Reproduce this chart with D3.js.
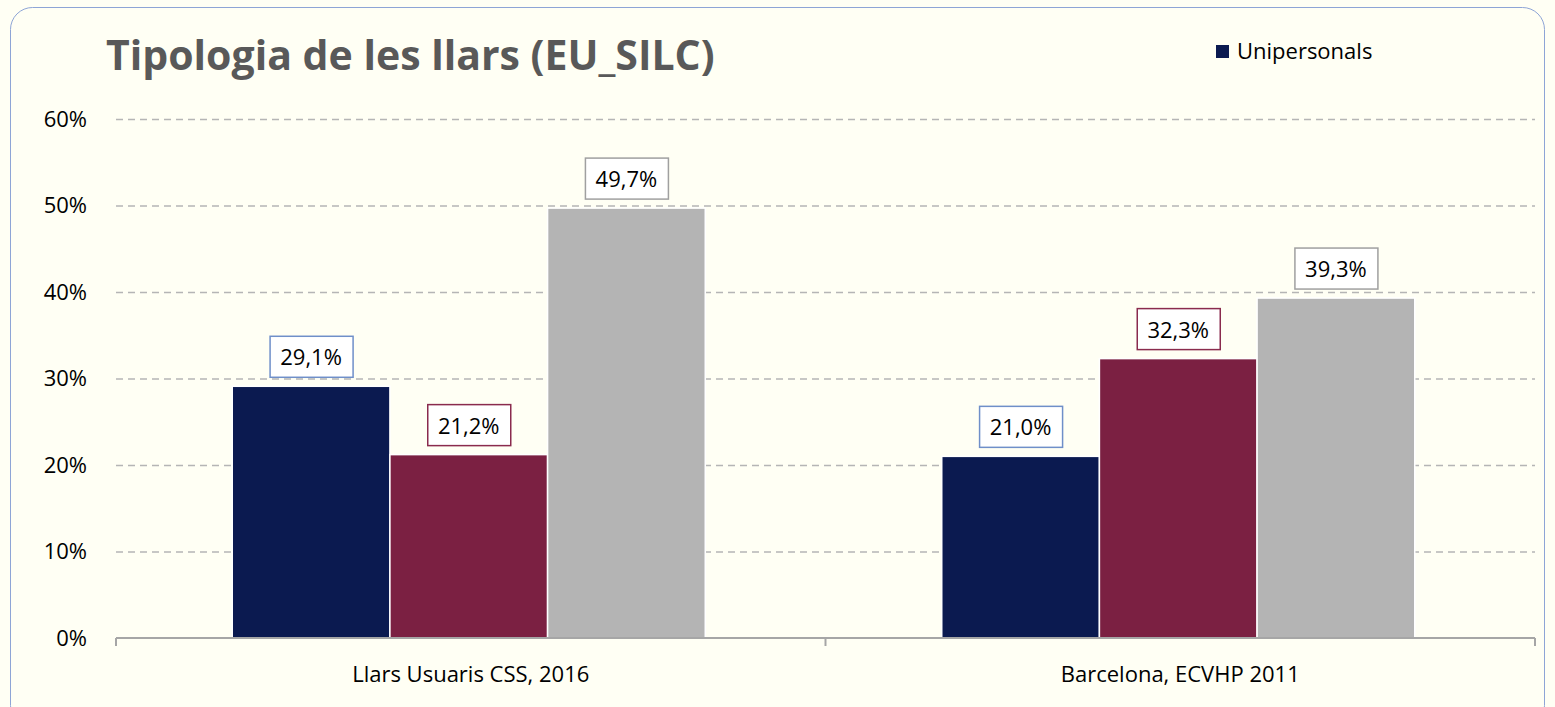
<!DOCTYPE html>
<html>
<head>
<meta charset="utf-8">
<script src="https://cdn.jsdelivr.net/npm/d3@7"></script>
<style>
  body { margin: 0; background: #fffff4; }
  svg { display: block; }
</style>
</head>
<body>
<div id="chart"></div>
<script>
// data
var categories = ["Llars Usuaris CSS, 2016", "Barcelona, ECVHP 2011"];
var seriesNames = ["Unipersonals", "Serie 2", "Serie 3"];
var seriesValues = [
  [29.1, 21.0],
  [21.2, 32.3],
  [49.7, 39.3]
];
var yTicks = [0, 10, 20, 30, 40, 50, 60];
var legendShown = ["Unipersonals"];

var svgWidth = 1555;
var svgHeight = 707;
var margin = { top: 119, right: 20, bottom: 69, left: 116 };
var width = 1535 - margin.left;
var height = 638 - margin.top;

var colors = ["#0b1a50", "#7b2042", "#b4b4b4"];
var labelBorders = ["#6f8fc9", "#8a2b4e", "#a0a0a0"];
var font = "'Open Sans', sans-serif";

var svg = d3.select("#chart")
  .append("svg")
  .attr("width", svgWidth)
  .attr("height", svgHeight);

// frame
svg.append("rect")
  .attr("x", 10.5).attr("y", 7.5)
  .attr("width", 1534).attr("height", 720)
  .attr("rx", 22).attr("ry", 22)
  .attr("fill", "#fffff4")
  .attr("stroke", "#8ea5d6")
  .attr("stroke-width", 1);

// title
svg.append("text")
  .attr("x", 106).attr("y", 70)
  .attr("font-family", font)
  .attr("font-weight", "bold")
  .attr("font-size", "41px")
  .attr("fill", "#595959")
  .text("Tipologia de les llars (EU_SILC)");

// legend
var legend = svg.append("g").attr("transform", "translate(1216, 45)");
legendShown.forEach(function(name, i) {
  var idx = seriesNames.indexOf(name);
  legend.append("rect")
    .attr("x", 0).attr("y", 0).attr("width", 13).attr("height", 13)
    .attr("fill", colors[idx]);
  legend.append("text")
    .attr("x", 21).attr("y", 14)
    .attr("font-family", font)
    .attr("font-size", "22px")
    .attr("fill", "#000")
    .text(name);
});

var chartGroup = svg.append("g")
  .attr("transform", `translate(${margin.left}, ${margin.top})`);

var x0 = d3.scaleBand()
  .domain(categories)
  .range([0, width])
  .paddingInner(0)
  .paddingOuter(0);

var x1 = d3.scaleBand()
  .domain(d3.range(seriesNames.length))
  .range([0, x0.bandwidth()])
  .paddingOuter(0.75)
  .paddingInner(0);

var y = d3.scaleLinear()
  .domain([0, 60])
  .range([height, 0]);

// gridlines
chartGroup.selectAll(".grid")
  .data(yTicks.filter(function(d) { return d > 0; }))
  .enter()
  .append("line")
  .attr("x1", 0).attr("x2", width)
  .attr("y1", function(d) { return y(d) + 0.5; })
  .attr("y2", function(d) { return y(d) + 0.5; })
  .attr("stroke", "#b5b5b5")
  .attr("stroke-width", 1.3)
  .attr("stroke-dasharray", "7,5");

// y axis labels
var yAxis = d3.axisLeft(y)
  .tickValues(yTicks)
  .tickSize(0)
  .tickPadding(29)
  .tickFormat(function(d) { return d + "%"; });

var yG = chartGroup.append("g").call(yAxis);
yG.select(".domain").remove();
yG.selectAll("text")
  .attr("font-family", font)
  .attr("font-size", "22px")
  .attr("fill", "#000");

// bars
var rows = [];
categories.forEach(function(c, ci) {
  seriesValues.forEach(function(vals, si) {
    rows.push({ cat: c, s: si, v: vals[ci] });
  });
});

chartGroup.selectAll(".bar")
  .data(rows)
  .enter()
  .append("rect")
  .attr("x", function(d) { return x0(d.cat) + x1(d.s) - 2; })
  .attr("y", function(d) { return y(d.v); })
  .attr("width", x1.bandwidth())
  .attr("height", function(d) { return height - y(d.v); })
  .attr("fill", function(d) { return colors[d.s]; })
  .attr("stroke", "#ffffff")
  .attr("stroke-width", 1.5);

// x axis
var xAxis = d3.axisBottom(x0).tickSize(0).tickPadding(28);
var xG = chartGroup.append("g")
  .attr("transform", `translate(0, ${height})`)
  .call(xAxis);
xG.select(".domain").attr("stroke", "#a6a6a6").attr("stroke-width", 2)
  .attr("d", "M0,0H" + width);
xG.selectAll("text")
  .attr("font-family", font)
  .attr("font-size", "22px")
  .attr("fill", "#000");

// axis tick marks between categories
var tickPos = [0, width / 2, width];
chartGroup.selectAll(".xtick")
  .data(tickPos)
  .enter()
  .append("line")
  .attr("x1", function(d) { return d; })
  .attr("x2", function(d) { return d; })
  .attr("y1", height)
  .attr("y2", height + 8)
  .attr("stroke", "#a6a6a6")
  .attr("stroke-width", 2);

// data labels
var labels = chartGroup.selectAll(".lbl")
  .data(rows)
  .enter()
  .append("g")
  .attr("transform", function(d) {
    return `translate(${x0(d.cat) + x1(d.s) + x1.bandwidth() / 2 - 2}, ${y(d.v) - 29})`;
  });

labels.append("rect")
  .attr("x", -41).attr("y", -21)
  .attr("width", 83).attr("height", 41)
  .attr("fill", "#ffffff")
  .attr("stroke", function(d) { return labelBorders[d.s]; })
  .attr("stroke-width", 1.5);

labels.append("text")
  .attr("text-anchor", "middle")
  .attr("dy", "0.36em")
  .attr("font-family", font)
  .attr("font-size", "22px")
  .attr("fill", "#000")
  .text(function(d) { return d.v.toFixed(1).replace(".", ",") + "%"; });
</script>
</body>
</html>
